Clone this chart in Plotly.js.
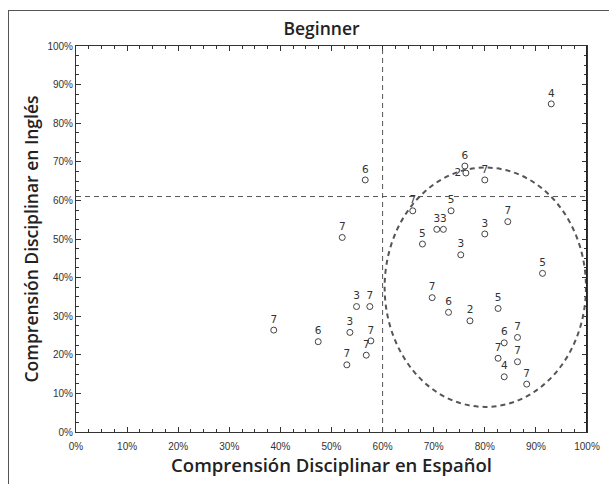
<!DOCTYPE html>
<html>
<head>
<meta charset="utf-8">
<script src="https://cdn.plot.ly/plotly-3.0.1.min.js"></script>
<style>
  html, body { margin: 0; padding: 0; background: #fff; }
  #wrap { position: relative; width: 609px; height: 484px; overflow: hidden; }
  #chart { position: absolute; left: 0; top: 0; width: 609px; height: 484px; }
  #frame { position: absolute; left: 8px; top: 10px; width: 640px; height: 500px;
           border-left: 1px solid #555; border-top: 1px solid #555; pointer-events: none; }
</style>
</head>
<body>
<div id="wrap">
  <div id="chart"></div>
  <div id="frame"></div>
</div>
<script>
// Comprensión en Español (%), Comprensión en Inglés (%), etiqueta de cada punto
const espanol = [93.0, 56.6, 52.1, 38.7, 47.4, 54.9, 57.5, 53.6, 57.7, 56.8, 53.0,
                 76.1, 76.3, 80.0, 65.9, 73.4, 70.6, 71.9, 80.0, 84.5, 67.8, 75.3,
                 91.3, 69.7, 72.9, 77.1, 82.6, 86.4, 83.8, 82.6, 86.4, 83.8, 88.2];
const ingles  = [85.0, 65.3, 50.4, 26.4, 23.4, 32.5, 32.5, 25.8, 23.6, 19.9, 17.4,
                 68.9, 67.1, 65.3, 57.3, 57.3, 52.5, 52.5, 51.3, 54.5, 48.7, 45.9,
                 41.1, 34.8, 31.0, 28.8, 32.0, 24.5, 23.1, 19.1, 18.2, 14.3, 12.4];
const etiquetas = ['4', '6', '7', '7', '6', '3', '7', '3', '7', '7', '7',
                   '6', '2', '7', '7', '5', '3', '3', '3', '7', '5', '3',
                   '5', '7', '6', '2', '5', '7', '6', '7', '7', '4', '7'];
const tickVals = [0, 10, 20, 30, 40, 50, 60, 70, 80, 90, 100];
const tickText = tickVals.map(v => v + '%');
const corteX = 60;   // línea vertical de referencia
const corteY = 61;   // línea horizontal de referencia
const elipse = { x0: 60.4, x1: 99.8, y0: 6.5, y1: 68.5 };

// posición de cada etiqueta (evita que se tapen las muy cercanas)
const posiciones = etiquetas.map((_, i) => (i === 12 ? 'middle left' : 'top center'));

const trace = {
  type: 'scatter',
  mode: 'markers+text',
  x: espanol,
  y: ingles,
  text: etiquetas,
  textposition: posiciones,
  textfont: { family: 'DejaVu Sans, sans-serif', size: 10.5, color: '#333' },
  marker: { symbol: 'circle-open', size: 6, color: '#444', line: { width: 1, color: '#444' } },
  cliponaxis: false,
  hoverinfo: 'x+y+text'
};

const axisCommon = {
  range: [0, 100],
  tickvals: tickVals,
  ticktext: tickText,
  ticks: 'inside',
  ticklen: 5,
  tickwidth: 1,
  tickcolor: '#333',
  minor: { dtick: 2.5, ticks: 'inside', ticklen: 3, tickcolor: '#333', showgrid: false },
  showline: true,
  linecolor: '#333',
  linewidth: 1,
  mirror: 'ticks',
  showgrid: false,
  zeroline: false,
  tickfont: { family: 'Liberation Sans, sans-serif', size: 10, color: '#333' },
  fixedrange: true
};

const titleFont = 'Open Sans, DejaVu Sans, sans-serif';

const layout = {
  width: 609,
  height: 484,
  margin: { l: 76, r: 22, t: 46, b: 52 },
  paper_bgcolor: 'rgba(0,0,0,0)',
  plot_bgcolor: '#fff',
  showlegend: false,
  title: {
    text: 'Beginner',
    xref: 'container', x: 0.528, xanchor: 'center',
    y: 0.94, yanchor: 'middle',
    font: { family: titleFont, size: 17.5, weight: 600, color: '#222' }
  },
  xaxis: Object.assign({}, axisCommon, {
    ticklabelstandoff: 5,
    title: { text: 'Comprensión Disciplinar en Español', standoff: 2,
             font: { family: titleFont, size: 18.5, weight: 600, color: '#222' } }
  }),
  yaxis: Object.assign({}, axisCommon, {
    title: { text: 'Comprensión Disciplinar en Inglés', standoff: 4,
             font: { family: titleFont, size: 17.5, weight: 600, color: '#222' } }
  }),
  shapes: [
    { type: 'line', xref: 'x', yref: 'y', x0: corteX, x1: corteX, y0: 0, y1: 100,
      line: { color: '#555', width: 1, dash: '5px,4px' } },
    { type: 'line', xref: 'x', yref: 'y', x0: 0, x1: 100, y0: corteY, y1: corteY,
      line: { color: '#555', width: 1, dash: '5px,4px' } },
    { type: 'circle', xref: 'x', yref: 'y', x0: elipse.x0, x1: elipse.x1, y0: elipse.y0, y1: elipse.y1,
      line: { color: '#555', width: 2, dash: '5px,4px' } },
    { type: 'line', xref: 'x', yref: 'y', x0: 100, x1: 100, y0: 0, y1: 100,
      line: { color: '#222', width: 2 } }
  ]
};

Plotly.newPlot('chart', [trace], layout, { displayModeBar: false, staticPlot: true });
</script>
</body>
</html>
